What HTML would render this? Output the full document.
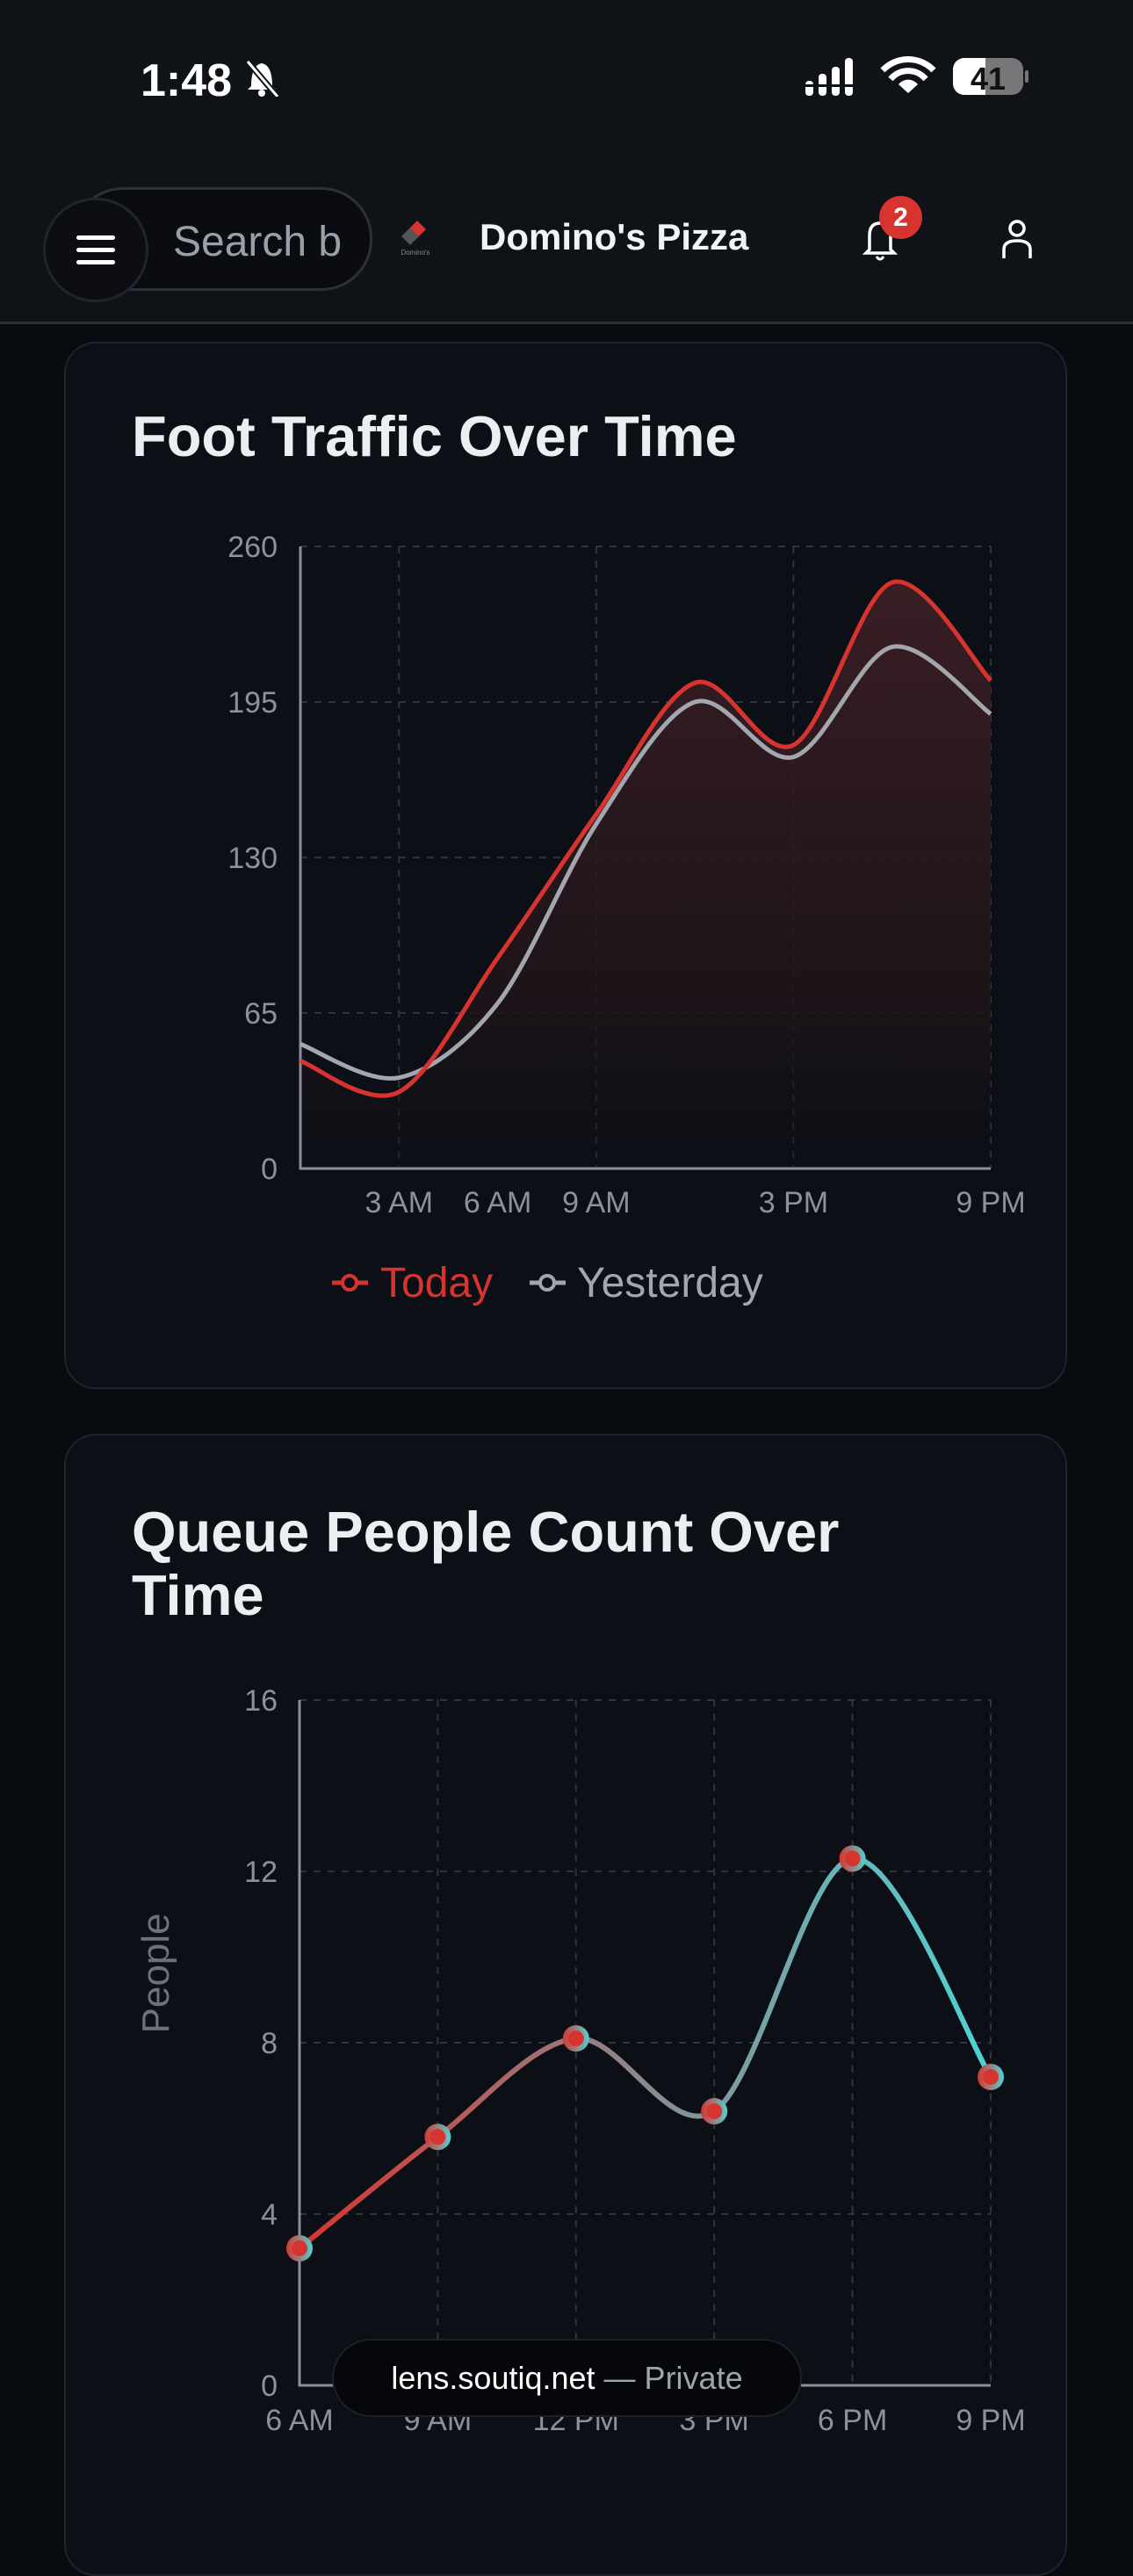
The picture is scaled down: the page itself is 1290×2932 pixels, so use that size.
<!DOCTYPE html>
<html><head><meta charset="utf-8">
<style>
html,body{margin:0;padding:0;background:#080b0f;}
body{width:1290px;height:2796px;position:relative;overflow:hidden;font-family:"Liberation Sans",sans-serif;}
.abs{position:absolute;}
#header{left:0;top:0;width:1290px;height:366px;background:#0f1217;border-bottom:3px solid #2a2e35;}
.card{position:absolute;left:73px;width:1142px;background:#0c0f16;border:2px solid #1f232b;border-radius:36px;box-sizing:border-box;}
.title{position:absolute;left:75px;color:#eceef2;font-size:65px;font-weight:bold;line-height:72px;}
svg text{font-family:"Liberation Sans",sans-serif;}
</style></head>
<body>
<div id="header" class="abs">
  <div class="abs" style="left:160px;top:62px;color:#fff;font-size:52px;font-weight:bold;">1:48</div>
  <svg class="abs" style="left:272px;top:66px" width="52" height="44"><path d="M14 32 Q14 8 26 6 Q38 8 38 32 L42 36 L10 36 Z" fill="#fff"/><circle cx="26" cy="40" r="4" fill="#fff"/><line x1="10" y1="4" x2="44" y2="44" stroke="#0f1217" stroke-width="7"/><line x1="10" y1="4" x2="44" y2="44" stroke="#fff" stroke-width="3"/></svg>
  <svg class="abs" style="left:915px;top:62px" width="260" height="50">
    <rect x="2" y="30" width="9" height="17" rx="4" fill="#fff"/><rect x="17" y="22" width="9" height="25" rx="4" fill="#fff"/><rect x="32" y="14" width="9" height="33" rx="4" fill="#fff"/><rect x="47" y="4" width="9" height="43" rx="4" fill="#fff"/>
    <rect x="2" y="34" width="54" height="3" fill="#0f1217"/>
    <path d="M90 18 A40 40 0 0 1 148 18" stroke="#fff" stroke-width="7" fill="none"/><path d="M99 28 A26 26 0 0 1 139 28" stroke="#fff" stroke-width="7" fill="none"/><path d="M119 44 L108 34 A14 14 0 0 1 130 34 Z" fill="#fff"/>
    <rect x="170" y="4" width="80" height="42" rx="13" fill="#777"/><rect x="170" y="4" width="36" height="42" rx="13" fill="#fff"/><rect x="195" y="4" width="12" height="42" fill="#fff"/>
    <text x="210" y="40" text-anchor="middle" font-size="36" font-weight="bold" fill="#111">41</text><rect x="252" y="18" width="4" height="14" rx="2" fill="#777"/>
  </svg>
  <div class="abs" style="left:82px;top:213px;width:342px;height:118px;border:3px solid #2c3038;border-radius:58px;background:#0a0c11;box-sizing:border-box;">
    <div class="abs" style="left:112px;top:32px;font-size:48px;color:#9aa0a8;white-space:nowrap;overflow:hidden;width:210px;">Search b</div>
  </div>
  <div class="abs" style="left:49px;top:225px;width:120px;height:119px;border:3px solid #20242b;border-radius:60px;background:#0c0e13;box-sizing:border-box;">
    <div class="abs" style="left:35px;top:40px;width:44px;height:5px;background:#fff;border-radius:3px;"></div>
    <div class="abs" style="left:35px;top:54px;width:44px;height:5px;background:#fff;border-radius:3px;"></div>
    <div class="abs" style="left:35px;top:68px;width:44px;height:5px;background:#fff;border-radius:3px;"></div>
  </div>
  <svg class="abs" style="left:452px;top:250px" width="42" height="42"><rect x="16" y="4" width="14" height="14" transform="rotate(45 23 11)" fill="#d8342f"/><rect x="8" y="12" width="14" height="14" transform="rotate(45 15 19)" fill="#555"/><text x="21" y="40" font-size="8" text-anchor="middle" fill="#888">Domino's</text></svg>
  <div class="abs" style="left:546px;top:246px;font-size:42px;font-weight:bold;color:#f2f3f5;">Domino's Pizza</div>
  <svg class="abs" style="left:978px;top:246px" width="50" height="52"><path d="M12 38 L12 22 Q12 8 24 8 Q36 8 36 22 L36 38 L40 42 L8 42 Z" fill="none" stroke="#fff" stroke-width="3.5"/><path d="M20 46 Q24 52 28 46" stroke="#fff" stroke-width="3" fill="none"/></svg>
  <div class="abs" style="left:1001px;top:223px;width:49px;height:49px;border-radius:50%;background:#d8342f;color:#fff;font-size:30px;font-weight:bold;text-align:center;line-height:49px;">2</div>
  <svg class="abs" style="left:1138px;top:248px" width="40" height="50"><circle cx="20" cy="12" r="8" fill="none" stroke="#fff" stroke-width="3.5"/><path d="M5 46 L5 36 Q5 26 20 26 Q35 26 35 36 L35 46" fill="none" stroke="#fff" stroke-width="3.5"/></svg>
</div>

<div class="card" style="top:389px;height:1192px;">
  <div class="title" style="top:70px;">Foot Traffic Over Time</div>
</div>
<div class="card" style="top:1632px;height:1300px;">
  <div class="title" style="top:74px;">Queue People Count Over<br>Time</div>
</div>

<svg id="charts" class="abs" style="left:0;top:0;" width="1290" height="2796">
  <defs>
    <linearGradient id="areaGrad" x1="0" y1="0" x2="0" y2="1"><stop offset="0" stop-color="#3c1f25" stop-opacity="0.95"/><stop offset="0.75" stop-color="#1e1419" stop-opacity="0.8"/><stop offset="1" stop-color="#0c0f16" stop-opacity="0.3"/></linearGradient>
    <linearGradient id="queueGrad" gradientUnits="userSpaceOnUse" x1="341" y1="0" x2="1128" y2="0"><stop offset="0" stop-color="#d8342f"/><stop offset="0.5" stop-color="#8a8a8e"/><stop offset="1" stop-color="#4fd3d3"/></linearGradient>
    <linearGradient id="ringGrad" x1="0" y1="0" x2="1" y2="0"><stop offset="0" stop-color="#d8342f"/><stop offset="1" stop-color="#4fd3d3"/></linearGradient>
  </defs>
  <g id="chart1"></g>
  <g id="chart2"></g>
</svg>

<div class="abs" style="left:378px;top:2662px;width:535px;height:89px;border-radius:45px;background:#05070b;border:2px solid #1d2027;box-sizing:border-box;text-align:center;line-height:85px;font-size:36px;"><span style="color:#fff">lens.soutiq.net</span><span style="color:#a0a4ab"> — Private</span></div>

<script>
// ---- Chart 1 data ----
const trafficHours = [0, 3, 6, 9, 12, 15, 18, 21];
const todayValues = [45, 32, 88, 148, 203, 177, 245, 204];
const yesterdayValues = [52, 38, 69, 144, 195, 172, 218, 190];
const trafficYTicks = [0, 65, 130, 195, 260];
const trafficXLabelHours = [3, 6, 9, 15, 21];
const trafficXLabels = ["3 AM", "6 AM", "9 AM", "3 PM", "9 PM"];
const trafficGridHours = [3, 9, 15, 21];
// ---- Chart 2 data ----
const queueLabels = ["6 AM", "9 AM", "12 PM", "3 PM", "6 PM", "9 PM"];
const queueValues = [3.2, 5.8, 8.1, 6.4, 12.3, 7.2];
const queueYTicks = [0, 4, 8, 12, 16];

const NS = "http://www.w3.org/2000/svg";
function mk(parent, tag, attrs, txt){ const e=document.createElementNS(NS,tag); for(const k in attrs) e.setAttribute(k,attrs[k]); if(txt!==undefined) e.textContent=txt; parent.appendChild(e); return e; }
function spline(pts){ let d="M"+pts[0][0]+","+pts[0][1]; for(let i=0;i<pts.length-1;i++){ const p0=pts[Math.max(i-1,0)],p1=pts[i],p2=pts[i+1],p3=pts[Math.min(i+2,pts.length-1)]; const t=0.16; d+=" C"+(p1[0]+(p2[0]-p0[0])*t)+","+(p1[1]+(p2[1]-p0[1])*t)+" "+(p2[0]-(p3[0]-p1[0])*t)+","+(p2[1]-(p3[1]-p1[1])*t)+" "+p2[0]+","+p2[1]; } return d; }

// Chart 1
(function(){
  const g=document.getElementById('chart1');
  const L=342,R=1128,T=622,B=1330;
  const x=h=>L+(h-0)/(21-0)*(R-L);
  const y=v=>B-v/260*(B-T);
  trafficYTicks.forEach(v=>{ if(v>0){ const l=mk(g,'line',{x1:L,x2:R,y1:y(v),y2:y(v),stroke:'#30343d','stroke-width':2,'stroke-dasharray':'8 8'});   }
    const t=mk(g,'text',{x:316,y:y(v)+12,'text-anchor':'end','font-size':34,fill:'#8b929c'},v);   });
  trafficGridHours.forEach(h=>{ const l=mk(g,'line',{x1:x(h),x2:x(h),y1:T,y2:B,stroke:'#30343d','stroke-width':2,'stroke-dasharray':'8 8'});   });
  trafficXLabelHours.forEach((h,i)=>{ const t=mk(g,'text',{x:x(h),y:1380,'text-anchor':'middle','font-size':34,fill:'#8b929c'},trafficXLabels[i]);   });
  const tp=trafficHours.map((h,i)=>[x(h),y(todayValues[i])]);
  const yp=trafficHours.map((h,i)=>[x(h),y(yesterdayValues[i])]);
  const area=mk(g,'path',{d:spline(tp)+" L"+R+","+B+" L"+L+","+B+" Z",fill:'url(#areaGrad)'});
   
  const ax=mk(g,'path',{d:`M${L},${T} L${L},${B} L${R},${B}`,stroke:'#8b8f98','stroke-width':3,fill:'none'});  
  const yl=mk(g,'path',{d:spline(yp),stroke:'#a3a6ae','stroke-width':5,fill:'none'});  
  const tl=mk(g,'path',{d:spline(tp),stroke:'#d8342f','stroke-width':5,fill:'none'});  
  const lg1=mk(g,'g',{});  
  mk(lg1,'line',{x1:378,x2:419,y1:1460,y2:1460,stroke:'#d8342f','stroke-width':5}); mk(lg1,'circle',{cx:398,cy:1460,r:8,fill:'#0c0f16',stroke:'#d8342f','stroke-width':4});
  mk(lg1,'text',{x:433,y:1476,'font-size':48,fill:'#d8342f'},'Today');
  const lg2=mk(g,'g',{});  
  mk(lg2,'line',{x1:603,x2:644,y1:1460,y2:1460,stroke:'#a3a6ae','stroke-width':5}); mk(lg2,'circle',{cx:623,cy:1460,r:8,fill:'#0c0f16',stroke:'#a3a6ae','stroke-width':4});
  mk(lg2,'text',{x:657,y:1476,'font-size':48,fill:'#a3a6ae'},'Yesterday');
})();

// Chart 2
(function(){
  const g=document.getElementById('chart2');
  const L=341,R=1128,T=1935,B=2715;
  const x=i=>L+i/(queueLabels.length-1)*(R-L);
  const y=v=>B-v/16*(B-T);
  queueYTicks.forEach(v=>{ if(v>0){ const l=mk(g,'line',{x1:L,x2:R,y1:y(v),y2:y(v),stroke:'#30343d','stroke-width':2,'stroke-dasharray':'8 8'});   }
    const t=mk(g,'text',{x:316,y:y(v)+12,'text-anchor':'end','font-size':34,fill:'#8b929c'},v);   });
  queueLabels.forEach((lab,i)=>{ if(i>0){ const l=mk(g,'line',{x1:x(i),x2:x(i),y1:T,y2:B,stroke:'#30343d','stroke-width':2,'stroke-dasharray':'8 8'});   }
    const t=mk(g,'text',{x:x(i),y:2766,'text-anchor':'middle','font-size':34,fill:'#8b929c'},lab);   });
  const ax=mk(g,'path',{d:`M${L},${T} L${L},${B} L${R},${B}`,stroke:'#8b8f98','stroke-width':3,fill:'none'});  
  const tt=mk(g,'text',{x:0,y:0,'font-size':44,fill:'#6c717a','text-anchor':'middle',transform:'translate(192,2246) rotate(-90)'},'People');  
  const pts=queueValues.map((v,i)=>[x(i),y(v)]);
  const ln=mk(g,'path',{d:spline(pts),stroke:'url(#queueGrad)','stroke-width':6,fill:'none'});  
  pts.forEach(p=>{ const c=mk(g,'circle',{cx:p[0],cy:p[1],r:15,fill:'url(#ringGrad)'});  
    mk(g,'circle',{cx:p[0],cy:p[1],r:9,fill:'#d8342f'}); });
})();
</script>
</body></html>
